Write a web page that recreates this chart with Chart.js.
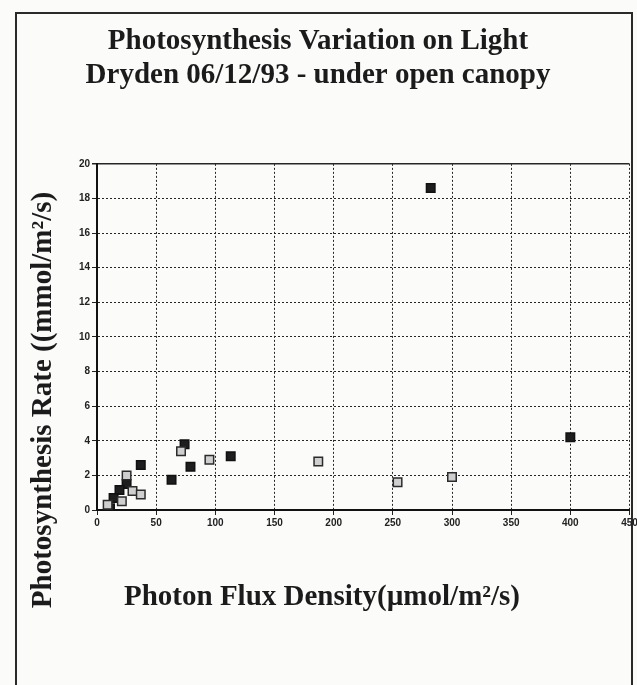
<!DOCTYPE html>
<html>
<head>
<meta charset="utf-8">
<script src="https://cdn.jsdelivr.net/npm/chart.js@4.4.0/dist/chart.umd.min.js"></script>
<style>
  html, body { margin: 0; padding: 0; background: #fbfbfa; }
  #wrap { position: relative; width: 637px; height: 685px; overflow: hidden; }
  #frame { position: absolute; left: 15px; top: 12px; width: 614px; height: 700px;
           border: 2px solid #2a2a2a; border-bottom: none; }
  canvas { position: absolute; left: 0; top: 0; }
</style>
</head>
<body>
<div id="wrap">
  <div id="frame"></div>
  <canvas id="chart" width="637" height="685"></canvas>
</div>
<script>
// readings (flux in umol/m2/s, rate in mmol/m2/s)
var darkFlux = [282, 400, 113, 79, 74, 63, 37, 25, 19, 14, 11];
var darkRate = [18.6, 4.2, 3.1, 2.5, 3.8, 1.75, 2.6, 1.5, 1.15, 0.7, 0.1];
var lightFlux = [300, 254, 187, 95, 71, 25, 30, 37, 21, 9];
var lightRate = [1.9, 1.6, 2.8, 2.9, 3.4, 2.0, 1.1, 0.9, 0.5, 0.3];

var xMin = 0, xMax = 450, xStep = 50;
var yMin = 0, yMax = 20, yStep = 2;

var titleLines = ['Photosynthesis Variation on Light', 'Dryden 06/12/93 - under open canopy'];
var xTitle = 'Photon Flux Density(\u00b5mol/m\u00b2/s)';
var yTitle = 'Photosynthesis Rate ((mmol/m\u00b2/s)';

function toPoints(xs, ys) {
  return xs.map(function (x, i) { return { x: x, y: ys[i] }; });
}

// axis titles sit off-centre in the original, so they are drawn by hand
var axisTitles = {
  id: 'axisTitles',
  afterDraw: function (chart) {
    var ctx = chart.ctx;
    ctx.save();
    ctx.fillStyle = '#1b1b1b';
    ctx.font = 'bold 29px "Liberation Serif", serif';
    ctx.textAlign = 'center';
    ctx.textBaseline = 'middle';
    ctx.fillText(xTitle, 322, 598);
    ctx.translate(44, 400);
    ctx.rotate(-Math.PI / 2);
    ctx.fillText(yTitle, 0, 0);
    ctx.restore();
  }
};

var tickFont = { family: '"Liberation Sans", Arial, sans-serif', size: 10, weight: 'bold' };

new Chart(document.getElementById('chart').getContext('2d'), {
  type: 'scatter',
  data: {
    datasets: [{
      data: toPoints(lightFlux, lightRate),
      pointStyle: 'rect',
      pointRadius: 6,
      pointBackgroundColor: '#cfcfcf',
      pointBorderColor: '#2b2b2b',
      pointBorderWidth: 1.5
    }, {
      data: toPoints(darkFlux, darkRate),
      pointStyle: 'rect',
      pointRadius: 6,
      pointBackgroundColor: '#1e1e1e',
      pointBorderColor: '#111',
      pointBorderWidth: 1.5
    }]
  },
  options: {
    responsive: false,
    animation: false,
    layout: { padding: { left: 0, right: 1, top: 0, bottom: 0 } },
    plugins: {
      legend: { display: false },
      tooltip: { enabled: false },
      title: {
        display: true,
        text: titleLines,
        color: '#1b1b1b',
        font: { family: '"Liberation Serif", serif', size: 29, weight: 'bold', lineHeight: 1.17 },
        padding: { top: 25, bottom: 71 }
      }
    },
    scales: {
      x: {
        type: 'linear',
        min: xMin,
        max: xMax,
        ticks: { stepSize: xStep, autoSkip: false, maxRotation: 0, padding: 2, color: '#222', font: tickFont },
        grid: { color: '#262626', lineWidth: 1, tickLength: 5, tickColor: '#222' },
        border: { color: '#111', width: 2, dash: [2, 2] },
        afterFit: function (s) { s.height = 175; s.paddingLeft = 0; s.paddingRight = 0; }
      },
      y: {
        type: 'linear',
        min: yMin,
        max: yMax,
        ticks: { stepSize: yStep, padding: 2, color: '#222', font: tickFont },
        grid: { color: '#262626', lineWidth: function (c) { return c.tick && c.tick.value === yMax ? 1.5 : 1; },
                tickLength: 5, tickColor: '#222' },
        border: {
          color: '#111',
          width: 2,
          dash: function (c) { return c.tick && c.tick.value === yMax ? [] : [2, 2]; }
        },
        afterFit: function (s) { s.width = 97; s.paddingTop = 0; s.paddingBottom = 0; }
      }
    }
  },
  plugins: [axisTitles]
});
</script>
</body>
</html>
